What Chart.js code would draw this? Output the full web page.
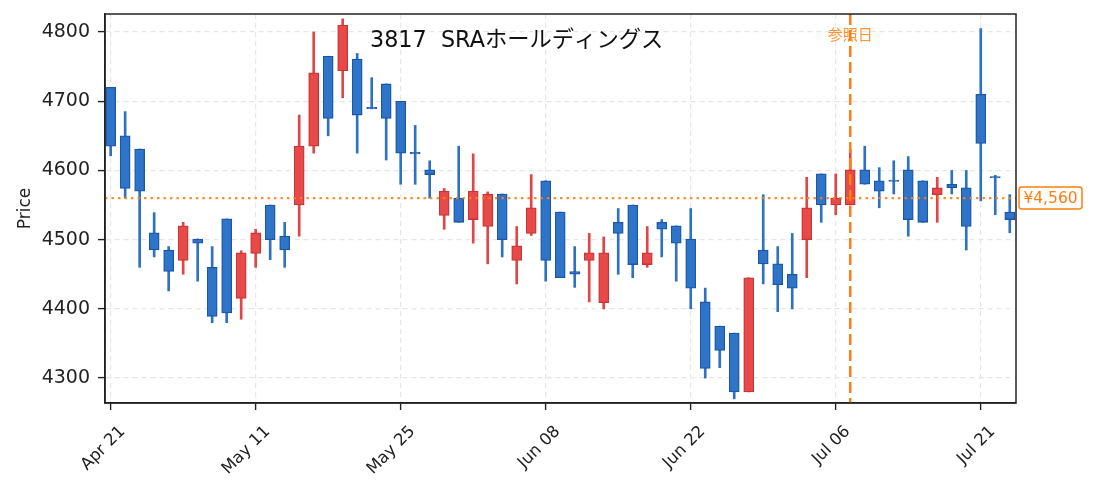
<!DOCTYPE html>
<html lang="ja">
<head>
<meta charset="UTF-8">
<title>3817 SRAホールディングス</title>
<script src="https://cdn.jsdelivr.net/npm/chart.js"></script>
<style>
    html, body { margin: 0; padding: 0; background: #ffffff; }
    #wrap { width: 1095px; height: 492px; }
</style>
</head>
<body>
<div id="wrap"><canvas id="chart" width="1095" height="492"></canvas></div>
<script>
// 日足データ
const dates = [
    'Apr 21','Apr 22','Apr 23','Apr 24','Apr 27','Apr 28','Apr 30','May 01','May 07','May 08',
    'May 11','May 12','May 13','May 14','May 15','May 18','May 19','May 20','May 21','May 22',
    'May 25','May 26','May 27','May 28','May 29','Jun 01','Jun 02','Jun 03','Jun 04','Jun 05',
    'Jun 08','Jun 09','Jun 10','Jun 11','Jun 12','Jun 15','Jun 16','Jun 17','Jun 18','Jun 19',
    'Jun 22','Jun 23','Jun 24','Jun 25','Jun 26','Jun 29','Jun 30','Jul 01','Jul 02','Jul 03',
    'Jul 06','Jul 07','Jul 08','Jul 09','Jul 10','Jul 13','Jul 14','Jul 15','Jul 16','Jul 17',
    'Jul 21','Jul 22','Jul 23'
];
const opens = [
    4720,4650,4631,4510,4485,4470,4501,4460,4530,4415,
    4480,4550,4505,4550,4635,4765,4744,4761,4691,4725,
    4700,4626,4601,4535,4560,4529,4519,4566,4470,4509,
    4585,4540,4454,4470,4409,4525,4550,4464,4525,4520,
    4501,4410,4375,4365,4280,4485,4465,4450,4500,4595,
    4550,4550,4601,4585,4586,4601,4585,4565,4580,4575,
    4710,4591,4540
];
const highs = [
    4720,4685,4631,4539,4490,4525,4501,4490,4530,4484,
    4515,4550,4525,4680,4800,4765,4819,4769,4734,4725,
    4700,4665,4614,4574,4635,4624,4569,4566,4519,4594,
    4585,4540,4490,4509,4504,4545,4550,4519,4529,4520,
    4545,4430,4375,4365,4445,4565,4490,4509,4590,4595,
    4595,4630,4635,4604,4614,4620,4585,4590,4600,4600,
    4805,4593,4565
];
const lows = [
    4621,4560,4460,4475,4426,4450,4440,4380,4380,4385,
    4460,4471,4460,4505,4625,4650,4705,4625,4689,4615,
    4580,4580,4560,4515,4525,4495,4465,4475,4436,4506,
    4440,4445,4431,4410,4400,4450,4445,4460,4475,4440,
    4400,4300,4315,4270,4280,4436,4396,4400,4445,4525,
    4536,4550,4580,4546,4566,4505,4525,4525,4566,4485,
    4556,4536,4510
];
const closes = [
    4635,4574,4570,4485,4454,4520,4495,4389,4394,4481,
    4510,4500,4485,4635,4741,4675,4810,4680,4689,4675,
    4625,4624,4594,4570,4525,4570,4566,4500,4491,4546,
    4470,4445,4450,4481,4481,4509,4464,4481,4515,4495,
    4430,4314,4340,4280,4445,4465,4435,4430,4546,4550,
    4560,4601,4580,4570,4584,4529,4525,4575,4575,4519,
    4639,4589,4529
];
const tickIdx = [0, 10, 20, 30, 40, 50, 60];
const yTicks = [4300, 4400, 4500, 4600, 4700, 4800];
const refIdx = 51;
const refPrice = 4560;
const titleText = '3817  SRAホールディングス';

const FONT = '"DejaVu Sans", "Noto Sans CJK JP", sans-serif';
const UP_FILL = '#e84a4a', UP_LINE = '#c93535', UP_WICK = '#e04646';
const DN_FILL = '#2e74c8', DN_LINE = '#1d56a6', DN_WICK = '#2f72c4';
const ORANGE = '#ff7f0e';

const isUp = opens.map((o, i) => closes[i] >= o);
const bodyData = opens.map((o, i) => ({ x: i, y: [Math.min(o, closes[i]), Math.max(o, closes[i])] }));
const wickData = lows.map((l, i) => ({ x: i, y: [l, highs[i]] }));

const overlay = {
    id: 'overlay',
    afterDatasetsDraw(chart) {
        const { ctx, chartArea: a, scales: { x, y } } = chart;
        ctx.save();
        const yp = y.getPixelForValue(refPrice);
        ctx.strokeStyle = 'rgba(255,127,14,0.9)';
        ctx.lineWidth = 2.3;
        ctx.setLineDash([2.4, 4.1]);
        ctx.beginPath();
        ctx.moveTo(a.left, yp);
        ctx.lineTo(a.right, yp);
        ctx.stroke();

        const xp = x.getPixelForValue(refIdx);
        ctx.strokeStyle = ORANGE;
        ctx.lineWidth = 2.5;
        ctx.setLineDash([11, 5]);
        ctx.beginPath();
        ctx.moveTo(xp, a.top);
        ctx.lineTo(xp, a.bottom);
        ctx.stroke();
        ctx.restore();
    },
    afterDraw(chart) {
        const { ctx, chartArea: a, scales: { x, y } } = chart;
        ctx.save();
        // 枠線
        ctx.strokeStyle = '#222';
        ctx.lineWidth = 1.5;
        ctx.strokeRect(a.left, a.top, a.right - a.left, a.bottom - a.top);

        // タイトル
        ctx.fillStyle = '#111';
        ctx.font = '22.3px ' + FONT;
        ctx.textAlign = 'left';
        ctx.textBaseline = 'alphabetic';
        ctx.fillText(titleText, a.left + 265, a.top + 33);

        // 参照日ラベル
        const xp = x.getPixelForValue(refIdx);
        ctx.fillStyle = 'rgba(255,127,14,0.85)';
        ctx.font = '15px "Noto Sans CJK JP", sans-serif';
        ctx.textAlign = 'center';
        ctx.textBaseline = 'middle';
        ctx.fillText('参照日', xp, a.top + 20);

        // 参照価格ラベル
        const yp = y.getPixelForValue(refPrice);
        const bx = a.right + 3, bw = 63, bh = 22;
        ctx.beginPath();
        ctx.roundRect(bx, yp - bh / 2, bw, bh, 3);
        ctx.fillStyle = '#fff';
        ctx.fill();
        ctx.strokeStyle = ORANGE;
        ctx.lineWidth = 1.5;
        ctx.stroke();
        ctx.fillStyle = ORANGE;
        ctx.font = '15.5px ' + FONT;
        ctx.fillText('¥' + refPrice.toLocaleString('en-US'), bx + bw / 2, yp + 1);
        ctx.restore();
    }
};

new Chart(document.getElementById('chart'), {
    type: 'bar',
    data: {
        datasets: [
            {
                label: 'body',
                data: bodyData,
                order: 0,
                grouped: false,
                barThickness: 10,
                backgroundColor: isUp.map(u => u ? UP_FILL : DN_FILL),
                borderColor: isUp.map(u => u ? UP_LINE : DN_LINE),
                borderWidth: 1.3,
                borderSkipped: false
            },
            {
                label: 'wick',
                data: wickData,
                order: 1,
                grouped: false,
                barThickness: 2,
                backgroundColor: isUp.map(u => u ? UP_WICK : DN_WICK),
                borderWidth: 0
            }
        ]
    },
    options: {
        responsive: false,
        animation: false,
        layout: { padding: { top: 14, right: 79, left: 0, bottom: 0 } },
        plugins: {
            legend: { display: false },
            tooltip: { enabled: false }
        },
        scales: {
            x: {
                type: 'linear',
                offset: false,
                min: -0.39,
                max: 62.43,
                afterBuildTicks: s => { s.ticks = tickIdx.map(v => ({ value: v })); },
                afterFit: s => { s.height = 89; s.paddingLeft = 0; s.paddingRight = 0; },
                grid: {
                    offset: false,
                    color: '#e6e6e6',
                    lineWidth: 1.2,
                    tickLength: 7,
                    tickColor: '#222',
                    tickWidth: 1.4
                },
                border: { color: '#222', width: 1.5, dash: [5, 4] },
                ticks: {
                    autoSkip: false,
                    minRotation: 45,
                    maxRotation: 45,
                    padding: 12,
                    labelOffset: 12,
                    color: '#222',
                    font: { family: FONT, size: 16.5 },
                    callback: v => dates[v]
                }
            },
            y: {
                min: 4264,
                max: 4826,
                afterBuildTicks: s => { s.ticks = yTicks.map(v => ({ value: v })); },
                afterFit: s => { s.width = 105; s.paddingTop = 0; s.paddingBottom = 0; },
                grid: {
                    color: '#e6e6e6',
                    lineWidth: 1.2,
                    tickLength: 7,
                    tickColor: '#222',
                    tickWidth: 1.4
                },
                border: { color: '#222', width: 1.5, dash: [5, 4] },
                ticks: {
                    padding: 8,
                    color: '#222',
                    font: { family: FONT, size: 19 },
                    callback: v => String(v)
                },
                title: {
                    display: true,
                    text: 'Price',
                    color: '#222',
                    font: { family: FONT, size: 17 },
                    padding: { top: 15, bottom: 0 }
                }
            }
        }
    },
    plugins: [overlay]
});
</script>
</body>
</html>
